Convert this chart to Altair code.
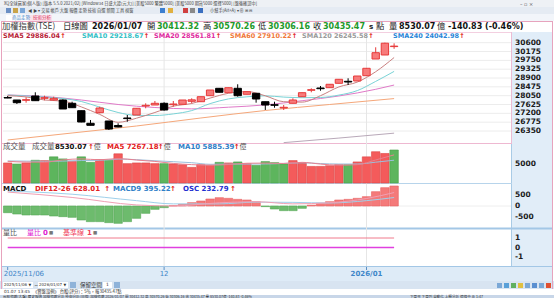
import altair as alt
import pandas as pd
import numpy as np

# ---------------- data ----------------
idx = list(range(1, 44))
opens = [27960, 27842, 27828, 28035, 27924, 27842, 27842, 27683, 27327, 26721, 27231, 26831, 26615, 26976, 27120,
         27553, 27601, 27683, 27616, 27635, 27780, 27760, 28049, 28405, 28194, 28405, 28117, 28165, 27760, 27616,
         27457, 27683, 28001, 28309, 28420, 28434, 28646, 28742, 28757, 29012, 29815, 30008, 30412.32]
highs = [28035, 27842, 27972, 28213, 28049, 28001, 27876, 27760, 27327, 26880, 27520, 26831, 26721, 27120, 27443,
         27683, 27794, 27731, 27794, 27842, 27924, 28001, 28323, 28405, 28434, 28598, 28242, 28165, 27760, 27760,
         27601, 27924, 28194, 28405, 28516, 28598, 28839, 28887, 28997, 29368, 30379, 30600, 30570.26]
lows = [27930, 27650, 27712, 27809, 27828, 27809, 27409, 27472, 26769, 26624, 27202, 26398, 26528, 26798, 27120,
        27443, 27601, 27327, 27520, 27635, 27683, 27760, 28049, 28213, 28194, 28001, 28117, 27712, 27361, 27472,
        27361, 27683, 28001, 28213, 28290, 28434, 28646, 28564, 28757, 29012, 29815, 30008, 30306.16]
closes = [27938, 27712, 27857, 27809, 27953, 27924, 27409, 27472, 26783, 26624, 27457, 26446, 26543, 26947, 27443,
          27587, 27683, 27361, 27650, 27842, 27850, 28001, 28323, 28213, 28434, 28049, 28242, 27890, 27601, 27587,
          27491, 27842, 28194, 28338, 28386, 28598, 28839, 28708, 28997, 29368, 30119, 30576, 30435.47]
volumes = [5180, 4900, 5180, 5870, 5790, 6760, 6230, 5600, 6760, 5340, 6050, 5870, 7550, 5000, 5180,
           5180, 5000, 5000, 4920, 4740, 4040, 4740, 4560, 5340, 5180, 5440, 5000, 4560, 5530, 5260,
           4920, 5790, 5180, 4290, 4290, 4470, 4740, 4740, 5440, 6760, 8080, 7630, 8530.07]
osc = [-313, -374, -420, -420, -420, -467, -498, -529, -654, -732, -732, -778, -809, -732, -576,
       -343, -156, -78, 15, 78, 156, 233, 327, 389, 358, 311, 280, 202, -30, -140,
       -218, -218, -109, 40, 125, 202, 280, 311, 358, 436, 669, 856, 935]

odd_idx = list(range(1, 44, 2))
sma5 = [28050, 27990, 27842, 27789, 27510, 27149, 26769, 26966, 27241, 27544, 27674, 27934, 28165, 28251,
        28044, 27760, 27741, 28049, 28473, 28704, 29204, 29886.04]
sma10 = [28083, 28035, 27987, 27914, 27770, 27500, 27241, 27101, 27096, 27173, 27332, 27669, 27895, 27996,
         28044, 27982, 27953, 27962, 28078, 28295, 28737, 29218.67]
sma20_idx = [1, 5, 9, 13, 17, 21, 25, 29, 33, 37, 41, 43]
sma20 = [28083, 28011, 27842, 27626, 27481, 27414, 27496, 27606, 27808, 28035, 28357, 28561.81]
sma60_idx = [1, 8, 15, 22, 29, 36, 43]
sma60 = [25917, 26254, 26591, 26976, 27337, 27626, 27910.22]
sma120_idx = [31, 37, 43]
sma120 = [25790, 26010, 26245.58]

vma5 = [5600, 5400, 5384, 5966, 6228, 5996, 6314, 5930, 5582, 5056, 4740, 4600, 4772, 5104, 5142, 5054,
        5336, 4894, 4594, 4736, 5952, 7267.18]
vma10 = [5700, 5650, 5600, 5650, 5800, 5848, 6182, 6034, 5753, 5509, 5248, 4836, 4870, 4896, 4913, 5053,
         5220, 5026, 4903, 4912, 5378, 5885.39]

macd_idx = [1, 8, 15, 19, 24, 28, 32, 36, 40, 43]
dif = [650, 400, 50, 0, 150, 200, 100, 150, 350, 628.01]
macd9 = [700, 550, 250, 100, 100, 180, 170, 140, 250, 395.22]

price_ticks = [30600, 30175, 29750, 29325, 28900, 28475, 28050, 27625, 27200, 26775, 26350]
vol_ticks = [5000]
macd_ticks = [500, 0, -500]
ratio_ticks = [1, 0, -1]
date_idx = [1, 18, 40]
date_labels = ["2025/11/06", "12", "2026/01"]

# ---------------- scales ----------------
def XS():
    return alt.Scale(domain=[1, 43], range=[7.7, 394.1], zero=False, nice=False)

def PS():
    return alt.Scale(domain=[26350, 30600], range=[131.0, 42.7], zero=False, nice=False)

def VS():
    return alt.Scale(domain=[0, 10000], range=[183.0, 144.3], zero=False, nice=False)

def MS():
    return alt.Scale(domain=[-500, 500], range=[216.7, 195.3], zero=False, nice=False)

def QS():
    return alt.Scale(domain=[-1, 1], range=[257.0, 238.0], zero=False, nice=False)

CJK = "Noto Sans CJK TC"
LAT = "DejaVu Sans"

df = pd.DataFrame(dict(i=idx, o=opens, h=highs, l=lows, c=closes, v=volumes, m=osc))
up = df.c >= df.o
df["fill"] = np.where(up, "#f77b7b", "#000000")
df["edge"] = np.where(up, "#e63a3a", "#000000")
prev = df.c.shift(1)
vup = (df.c >= prev) | prev.isna()
df["vfill"] = np.where(vup, "#f45b5b", "#5db55d")
df["vedge"] = np.where(vup, "#dc4646", "#489f48")
df["mfill"] = np.where(df.m >= 0, "#f47a7a", "#6dbb6d")
df["medge"] = np.where(df.m >= 0, "#e86262", "#56a856")
df["x0"] = df.i - 0.40
df["x1"] = df.i + 0.40
df["b0"] = df.i - 0.46
df["b1"] = df.i + 0.46
df["zero"] = 0

layers = []

# ---------------- chrome (background panels) ----------------
def rects(items):
    d = pd.DataFrame(items, columns=["x", "x2", "y", "y2", "f"])
    return alt.Chart(d).mark_rect().encode(
        x=alt.X("x:Q", scale=None), x2="x2:Q",
        y=alt.Y("y:Q", scale=None), y2="y2:Q",
        fill=alt.Fill("f:N", scale=None))

layers.append(rects([
    (0, 554, 0, 7, "#eef1f5"),
    (0, 554, 7, 14, "#e5ebf3"),
    (0, 554, 14, 21, "#f2f5fa"),
    (6, 28, 15, 21, "#ffffff"),
    (29, 52, 15, 21, "#fbe1ea"),
    (512, 552, 32, 267, "#e1edf8"),
    (2, 552, 267, 281, "#deebf7"),
    (0, 554, 281, 289, "#d8e4f1"),
    (0, 554, 289, 295, "#ffffff"),
    (0, 554, 295, 298, "#c8d6e8"),
    # input boxes
    (3, 33, 282, 288, "#ffffff"), (38, 68, 282, 288, "#ffffff"), (103, 112, 282, 288, "#ffffff"),
    (70, 76, 282, 288, "#8fb3d9"), (114, 120, 282, 288, "#8fb3d9"),
    # toolbar icons
    (6, 11, 8, 13, "#6a8fc4"), (13, 18, 8, 13, "#c9a34a"), (20, 25, 8, 13, "#7aa7d8"),
    (160, 165, 8, 13, "#3c7fd0"), (168, 173, 8, 13, "#e0b040"), (183, 188, 8, 13, "#d04040"),
    (190, 195, 8, 13, "#8a8a8a"), (198, 203, 8, 13, "#3a6fc0"),
    # bottom right icons
    (497, 502, 283, 288, "#7ba8d6"), (504, 509, 283, 288, "#5aa0d8"), (511, 516, 283, 288, "#60b060"),
    (518, 523, 283, 288, "#e0c040"), (525, 530, 283, 288, "#7ba8d6"), (532, 537, 283, 288, "#5a8fd0"),
    (539, 544, 283, 288, "#7ba8d6"), (546, 551, 283, 288, "#e05030"),
    # borders
    (1, 2, 21, 289, "#e7a3bd"), (552, 553, 21, 289, "#e7a3bd"), (1, 553, 21, 22, "#e7a3bd"),
    (2, 512, 32, 33, "#f3cfe0"), (511, 512, 32, 144, "#ecbcd3"),
    (2, 512, 143, 144, "#eeb8d1"), (511, 512, 144, 267, "#a9cbe6"),
    (2, 512, 183, 184, "#b7d4eb"), (2, 552, 227.5, 229.5, "#a3c7e6"),
    (2, 552, 266, 267, "#a3c7e6"),
]))

# ---------------- grid ----------------
gp = pd.DataFrame(dict(p=price_ticks))
layers.append(alt.Chart(gp).mark_rule(color="#ececec", strokeWidth=1).encode(
    y=alt.Y("p:Q", scale=PS(), axis=None), x=alt.value(3), x2=alt.value(511)))
gd = pd.DataFrame(dict(i=date_idx[1:]))
layers.append(alt.Chart(gd).mark_rule(color="#e6e6e6", strokeWidth=1).encode(
    x=alt.X("i:Q", scale=XS(), axis=None), y=alt.value(33), y2=alt.value(266)))
layers.append(alt.Chart(pd.DataFrame(dict(m=[0]))).mark_rule(color="#eeeeee").encode(
    y=alt.Y("m:Q", scale=MS(), axis=None), x=alt.value(3), x2=alt.value(511)))

# ---------------- main price panel ----------------
def line(ix, vals, scale, color, width=1.0):
    d = pd.DataFrame(dict(si=ix, val=vals))
    return alt.Chart(d).mark_line(color=color, strokeWidth=width, interpolate="monotone").encode(
        x=alt.X("si:Q", scale=XS(), axis=None), y=alt.Y("val:Q", scale=scale, axis=None))

layers.append(line(sma120_idx, sma120, PS(), "#b9a9b9"))
layers.append(line(sma60_idx, sma60, PS(), "#f5a77a"))
layers.append(line(sma20_idx, sma20, PS(), "#e07ac8"))
layers.append(line(odd_idx, sma10, PS(), "#79d3d6"))
layers.append(line(odd_idx, sma5, PS(), "#c98080"))

layers.append(alt.Chart(df).mark_rule(strokeWidth=1).encode(
    x=alt.X("i:Q", scale=XS(), axis=None),
    y=alt.Y("l:Q", scale=PS(), axis=None), y2="h:Q",
    color=alt.Color("edge:N", scale=None)))
layers.append(alt.Chart(df).mark_rect(strokeWidth=1).encode(
    x=alt.X("x0:Q", scale=XS(), axis=None), x2="x1:Q",
    y=alt.Y("o:Q", scale=PS(), axis=None), y2="c:Q",
    fill=alt.Fill("fill:N", scale=None), stroke=alt.Stroke("edge:N", scale=None)))

# ---------------- volume panel ----------------
layers.append(alt.Chart(df).mark_rect(strokeWidth=0.6).encode(
    x=alt.X("b0:Q", scale=XS(), axis=None), x2="b1:Q",
    y=alt.Y("zero:Q", scale=VS(), axis=None), y2="v:Q",
    fill=alt.Fill("vfill:N", scale=None), stroke=alt.Stroke("vedge:N", scale=None)))
layers.append(line(odd_idx, vma10, VS(), "#9cbfdc"))
layers.append(line(odd_idx, vma5, VS(), "#e8808e"))

# ---------------- MACD panel ----------------
layers.append(alt.Chart(df).mark_rect(strokeWidth=0.6).encode(
    x=alt.X("b0:Q", scale=XS(), axis=None), x2="b1:Q",
    y=alt.Y("zero:Q", scale=MS(), axis=None), y2="m:Q",
    fill=alt.Fill("mfill:N", scale=None), stroke=alt.Stroke("medge:N", scale=None)))
layers.append(line(macd_idx, macd9, MS(), "#9fd0ea"))
layers.append(line(macd_idx, dif, MS(), "#f0a0b4"))

# ---------------- volume ratio panel ----------------
qd = pd.DataFrame(dict(si=[1, 43], one=[1, 1], z=[0, 0]))
layers.append(alt.Chart(qd).mark_line(color="#f07a8c", strokeWidth=1).encode(
    x=alt.X("si:Q", scale=XS(), axis=None), y=alt.Y("one:Q", scale=QS(), axis=None)))
layers.append(alt.Chart(qd).mark_line(color="#e040e0", strokeWidth=1.5).encode(
    x=alt.X("si:Q", scale=XS(), axis=None), y=alt.Y("z:Q", scale=QS(), axis=None)))

# ---------------- right-hand axis labels ----------------
def rlabels(vals, scale):
    d = pd.DataFrame(dict(v=vals, t=[str(v) for v in vals]))
    return alt.Chart(d).mark_text(align="left", baseline="middle", font=LAT, fontWeight="bold",
                                  fontSize=7.5, color="#1a1a1a").encode(
        y=alt.Y("v:Q", scale=scale, axis=None), x=alt.value(515), text="t:N")

layers.append(rlabels(price_ticks, PS()))
layers.append(rlabels(vol_ticks, VS()))
layers.append(rlabels(macd_ticks, MS()))
layers.append(rlabels(ratio_ticks, QS()))

# ---------------- date axis ----------------
dd = pd.DataFrame(dict(i=date_idx, t=date_labels))
layers.append(alt.Chart(dd).mark_rule(color="#5b8fc4").encode(
    x=alt.X("i:Q", scale=XS(), axis=None), y=alt.value(267), y2=alt.value(270)))
layers.append(alt.Chart(dd.iloc[[0]]).mark_text(align="left", baseline="middle", font=LAT, fontSize=7,
                                                 color="#3f86c8", dx=-4).encode(
    x=alt.X("i:Q", scale=XS(), axis=None), y=alt.value(273.5), text="t:N"))
layers.append(alt.Chart(dd.iloc[[1]]).mark_text(align="center", baseline="middle", font=LAT, fontSize=7,
                                                 color="#3f86c8").encode(
    x=alt.X("i:Q", scale=XS(), axis=None), y=alt.value(273.5), text="t:N"))
layers.append(alt.Chart(dd.iloc[[2]]).mark_text(align="center", baseline="middle", font=LAT, fontSize=7,
                                                 fontWeight="bold", color="#3f86c8").encode(
    x=alt.X("i:Q", scale=XS(), axis=None), y=alt.value(273.5), text="t:N"))

# ---------------- texts ----------------
BW = {".": .38, " ": .348, "-": .415, "(": .457, ")": .457, "%": 1.002, "/": .365, "↑": .84}
RW = {".": .318, " ": .318, "-": .361, "(": .39, ")": .39, "%": .95, "/": .337, "↑": .84}

def tw(s, size, bold, font):
    w = 0.0
    for ch in s:
        if ord(ch) > 0x2E80:
            w += 1.0
        elif ch.isdigit():
            w += .696 if bold else .636
        elif ch in BW:
            w += BW[ch] if bold else RW[ch]
        elif ch.isupper():
            w += .76 if bold else .7
        else:
            w += .62 if bold else .56
    return w * size

texts = []

def T(x, y, t, c, s, bold=False, font=LAT):
    texts.append(dict(x=x, y=y, t=t, c=c, s=s, w="bold" if bold else "normal", f=font))
    return x + tw(t, s, bold, font)

# title / toolbar / tabs
T(4, 3.5, "XQ全球贏家(個人版) [版本 5.5.0 2021/02] [Window34 日盛大證(元大)] [美股5000 繁體5000] [美股5000 期貨5000 選擇5000] [盤後確認中]", "#444444", 4.2, False, CJK)
T(520, 3.5, "–   ▫   ×", "#555555", 5)
T(28, 10.5, "◀ ▶ ▾  交易  帳戶  大盤  報價  走勢  技術  自選  新聞  工具  視窗", "#444444", 4.2, False, CJK)
T(210, 10.5, "小幫手(Alt+A) ▾  ⊕  ⊞  ⊟", "#444444", 4.2, False, CJK)
T(12, 18, "商品走勢", "#3b7dc4", 4.5, False, CJK)
T(33, 18, "技術分析", "#d8335a", 4.5, False, CJK)

# header row
Y0 = 26.5
HS = 8.0
T(2, Y0, "加權指數(TSE)", "#3a3a3a", 8.3, False, CJK)
T(63, Y0, "日線圖", "#222222", 8.3, False, CJK)
T(92, Y0, "2026/01/07", "#111111", HS, True)
T(147, Y0, "開", "#222222", 8.3, False, CJK)
T(157, Y0, "30412.32", "#1f9a2b", HS, True)
T(203, Y0, "高", "#222222", 8.3, False, CJK)
T(213, Y0, "30570.26", "#1f9a2b", HS, True)
T(258, Y0, "低", "#222222", 8.3, False, CJK)
T(268, Y0, "30306.16", "#1f9a2b", HS, True)
T(313, Y0, "收", "#222222", 8.3, False, CJK)
T(323, Y0, "30435.47", "#1f9a2b", HS, True)
T(369, Y0, "s", "#222222", 7.2, True)
T(376, Y0, "點", "#222222", 8.3, False, CJK)
T(389, Y0, "量", "#222222", 8.3, False, CJK)
T(399, Y0, "8530.07", "#111111", HS, True)
T(437, Y0, "億", "#222222", 8.3, False, CJK)
T(448, Y0, "-140.83 (-0.46%)", "#111111", HS, True)

# SMA row
Y1 = 36.3
for x, t, c in [(3, "SMA5 29886.04", "#b81c36"), (82, "SMA10 29218.67", "#35bfc6"),
                (154, "SMA20 28561.81", "#e0299e"), (230, "SMA60 27910.22", "#f0793a"),
                (302, "SMA120 26245.58", "#9a9a9a"), (393, "SMA240 24042.98", "#2a86d8")]:
    nx = T(x, Y1, t, c, 6.5, True)
    T(nx + 1.5, Y1, "↑", "#e01010", 6.5, True)

# volume header
Y2 = 147
T(3, Y2, "成交量", "#555555", 7.5, False, CJK)
T(32, Y2, "成交量", "#555555", 7.5, False, CJK)
nx = T(55, Y2, "8530.07", "#111111", 7, True)
nx = T(nx + 1, Y2, "↑", "#e01010", 7, True)
T(nx, Y2, "億", "#555555", 7, False, CJK)
nx = T(107, Y2, "MA5 7267.18", "#e32222", 7, True)
nx = T(nx + 1, Y2, "↑", "#e01010", 7, True)
T(nx, Y2, "億", "#555555", 7, False, CJK)
nx = T(178, Y2, "MA10 5885.39", "#2f80c8", 7, True)
nx = T(nx + 1, Y2, "↑", "#e01010", 7, True)
T(nx, Y2, "億", "#555555", 7, False, CJK)

# MACD header
Y3 = 189
T(3, Y3, "MACD", "#111111", 7, True)
for x, t, c in [(35, "DIF12-26 628.01", "#e32222"), (113, "MACD9 395.22", "#2f80c8"),
                (183, "OSC 232.79", "#1f2fd0")]:
    nx = T(x, Y3, t, c, 7, True)
    T(nx + 1.5, Y3, "↑", "#e01010", 7, True)

# volume-ratio header
Y4 = 233
T(3, Y4, "量比", "#555555", 7, False, CJK)
T(27, Y4, "量比", "#e020d0", 7, False, CJK)
T(43, Y4, "0", "#e020d0", 7, True)
T(49, Y4, "■", "#777777", 4.5)
T(63, Y4, "基準線", "#f0405a", 7, False, CJK)
T(87, Y4, "1", "#f0405a", 7, True)
T(93, Y4, "■", "#777777", 4.5)

# bottom controls / status / taskbar
T(4, 285, "2025/11/06", "#333333", 4.0)
T(28.5, 285, "▼", "#333333", 3.5)
T(34, 285, "~", "#333333", 5)
T(39, 285, "2026/01/07", "#333333", 4.0)
T(63.5, 285, "▼", "#333333", 3.5)
T(80, 285, "保留空間", "#333333", 5.5, False, CJK)
T(106, 285, "1", "#333333", 4.5)
T(4, 292, "01.07 13:45", "#333333", 4.3)
T(33, 292, "《實盤設例》 台股(評分)：5％，報30435.47點", "#333333", 4.3, False, CJK)
T(3, 296.6, "台股指數(大盤)  歷史報價  加權指數分析  技術分析(日線)  加權指數 2026/01/07 開 30412.32 高 30570.26 低 30306.16 收 30435.47 量 8530.07億 -140.83 -0.46%", "#333333", 3.6, False, CJK)
T(410, 296.6, "下單夾  下單列  自動化  上櫃分析  連線中  ⊕  1:47", "#333333", 3.6, False, CJK)

tdf = pd.DataFrame(texts)
for (w, f), g in tdf.groupby(["w", "f"]):
    layers.append(alt.Chart(g.reset_index(drop=True)).mark_text(
        align="left", baseline="middle", font=f, fontWeight=w).encode(
        x=alt.X("x:Q", scale=None), y=alt.Y("y:Q", scale=None),
        text="t:N", color=alt.Color("c:N", scale=None), size=alt.Size("s:Q", scale=None)))

chart = alt.layer(*layers).resolve_scale(
    x="independent", y="independent", color="independent", fill="independent",
    stroke="independent", size="independent"
).properties(width=554, height=298, autosize=alt.AutoSizeParams(type="none"), padding=0,
             background="#ffffff").configure_view(stroke=None)

chart.save("out.html", embed_options={"renderer": "svg", "actions": False})
